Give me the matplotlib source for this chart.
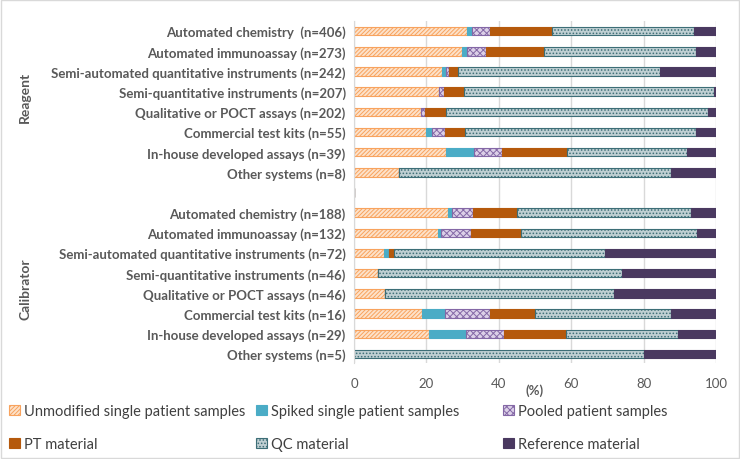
import numpy as np
import matplotlib.pyplot as plt
from matplotlib.patches import Rectangle

# categories (top to bottom)
reagent_labels = ["Automated chemistry  (n=406)", "Automated immunoassay (n=273)",
                  "Semi-automated quantitative instruments (n=242)",
                  "Semi-quantitative instruments (n=207)", "Qualitative or POCT assays (n=202)",
                  "Commercial test kits (n=55)", "In-house developed assays (n=39)",
                  "Other systems (n=8)"]
calibrator_labels = ["Automated chemistry (n=188)", "Automated immunoassay (n=132)",
                     "Semi-automated quantitative instruments (n=72)",
                     "Semi-quantitative instruments (n=46)", "Qualitative or POCT assays (n=46)",
                     "Commercial test kits (n=16)", "In-house developed assays (n=29)",
                     "Other systems (n=5)"]

series = ["Unmodified single patient samples", "Spiked single patient samples",
          "Pooled patient samples", "PT material", "QC material", "Reference material"]

# percentages per series, reagent rows then calibrator rows
unmodified_r = [31.1, 29.7, 24.2, 23.6, 18.6, 19.9, 25.5, 12.5]
spiked_r = [1.5, 1.6, 1.2, 0.0, 0.0, 1.6, 7.6, 0.0]
pooled_r = [5.0, 5.2, 0.8, 1.3, 0.9, 3.6, 7.8, 0.0]
pt_r = [17.0, 15.9, 2.6, 5.4, 6.0, 5.7, 17.9, 0.0]
qc_r = [39.3, 42.1, 55.7, 69.1, 72.4, 63.7, 33.3, 75.0]
ref_r = [6.1, 5.5, 15.5, 0.6, 2.1, 5.5, 7.9, 12.5]

unmodified_c = [25.9, 23.2, 8.3, 6.5, 8.7, 18.75, 20.7, 0.0]
spiked_c = [1.1, 0.9, 1.4, 0.0, 0.0, 6.25, 10.3, 0.0]
pooled_c = [6.0, 8.2, 0.0, 0.0, 0.0, 12.5, 10.3, 0.0]
pt_c = [12.1, 13.7, 1.4, 0.0, 0.0, 12.5, 17.2, 0.0]
qc_c = [48.1, 48.7, 58.3, 67.4, 63.0, 37.5, 31.0, 80.0]
ref_c = [6.8, 5.3, 30.6, 26.1, 28.3, 12.5, 10.3, 20.0]

styles = [
    dict(facecolor="#FDE2CA", edgecolor="#F8A35E", hatch="////////"),
    dict(facecolor="#4BACC6", edgecolor="#4BACC6"),
    dict(facecolor="#DCD0E8", edgecolor="#8468A6", hatch="xxxxx"),
    dict(facecolor="#B5590C", edgecolor="#B5590C"),
    dict(facecolor="#BFCFD2", edgecolor="#3D6E77", hatch="....."),
    dict(facecolor="#4A3960", edgecolor="#4A3960"),
]

plt.rcParams["hatch.linewidth"] = 0.7
plt.rcParams["font.family"] = ["Lato", "DejaVu Sans"]

fig = plt.figure(figsize=(7.4, 4.6), dpi=100)
ax = fig.add_axes([354 / 740, 1 - 364 / 460, (716 - 354) / 740, (364 - 22) / 460])

labels = reagent_labels + [""] + calibrator_labels
ypos = np.arange(len(labels))
data = [
    unmodified_r + [0] + unmodified_c,
    spiked_r + [0] + spiked_c,
    pooled_r + [0] + pooled_c,
    pt_r + [0] + pt_c,
    qc_r + [0] + qc_c,
    ref_r + [0] + ref_c,
]

left = np.zeros(len(labels))
for name, vals, st in zip(series, data, styles):
    vals = np.array(vals)
    ax.barh(ypos, vals, left=left, height=0.42, label=name, linewidth=0.8, **st)
    left += vals

ax.set_xlim(0, 100)
ax.set_ylim(16.45, -0.5)
ax.set_xticks([0, 20, 40, 60, 80, 100])
ax.set_yticks(ypos)
ax.set_yticklabels(labels, fontweight="bold", fontsize=9.5, color="#595959")
ax.tick_params(axis="both", length=0, colors="#595959")
ax.tick_params(axis="x", labelsize=9.5, pad=10)
ax.tick_params(axis="y", pad=6)
ax.xaxis.grid(True, color="#D9D9D9", linewidth=1)
ax.set_axisbelow(True)
for s in ["top", "right", "bottom"]:
    ax.spines[s].set_visible(False)
ax.spines["left"].set_color("#D9D9D9")

fig.text(535 / 740, 1 - 391 / 460, "(%)", fontsize=9.5, fontweight="bold",
         color="#595959", ha="center", va="center")
fig.text(25 / 740, 1 - 97 / 460, "Reagent", rotation=90, fontsize=10, fontweight="bold",
         color="#595959", ha="center", va="center")
fig.text(25 / 740, 1 - 289 / 460, "Calibrator", rotation=90, fontsize=10, fontweight="bold",
         color="#595959", ha="center", va="center")

# legend: three columns placed at fixed x positions
handles, names = ax.get_legend_handles_labels()
col_x = [9, 256, 503]
for k, (i, j) in enumerate([(0, 3), (1, 4), (2, 5)]):
    fig.legend([handles[i], handles[j]], [names[i], names[j]], ncol=1,
               loc="upper left", bbox_to_anchor=(col_x[k] / 740, 1 - 405 / 460),
               frameon=False, borderpad=0, borderaxespad=0,
               fontsize=10.5, handlelength=0.75, handleheight=0.75, handletextpad=0.3,
               labelspacing=1.3, labelcolor="#404040")

fig.patches.append(Rectangle((0.002, 0.002), 0.996, 0.996, transform=fig.transFigure,
                             fill=False, edgecolor="#D9D9D9", linewidth=1))

fig.savefig("out.png", dpi=100)
